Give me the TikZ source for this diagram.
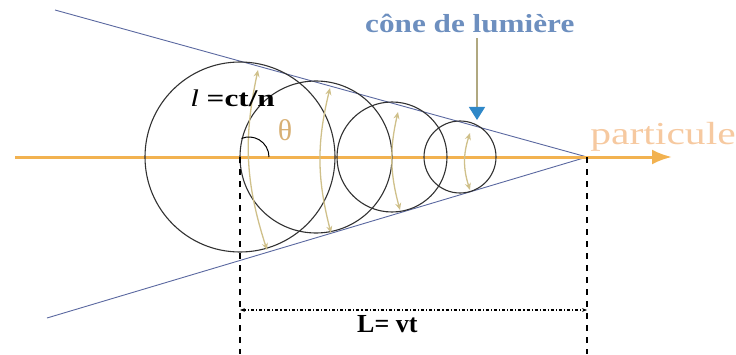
\documentclass[tikz,border=0pt]{standalone}
\usepackage{fontspec}
\setmainfont{Liberation Serif}
\usetikzlibrary{arrows.meta, positioning, calc}
\definecolor{conelinecol}{RGB}{90,104,160}
\definecolor{axisorange}{RGB}{242,178,80}
\definecolor{partorange}{RGB}{246,201,160}
\definecolor{wavekhaki}{RGB}{207,192,138}
\definecolor{coneblue}{RGB}{47,136,200}
\definecolor{labelblue}{RGB}{109,143,191}
\definecolor{shafttan}{RGB}{176,168,128}
\definecolor{thetacol}{RGB}{216,176,116}
\definecolor{circgrey}{RGB}{50,50,50}

\begin{document}
\begin{tikzpicture}[
    x=1pt, y=1pt,
    coneline/.style={draw=conelinecol, line width=0.9pt},
    wavefront/.style={draw=circgrey, line width=1.1pt},
    wavearrow/.style={draw=wavekhaki, line width=1.3pt, {Stealth[length=7pt,width=6pt]}-{Stealth[length=7pt,width=6pt]}},
    guide/.style={draw=black, line width=1.1pt, dash pattern=on 6pt off 6pt},
    lbl/.style={inner sep=0pt, anchor=base west}
]
  \useasboundingbox (0,0) rectangle (736,354);

  \coordinate (origin) at (240,197);
  \coordinate (apex) at (587,197);
  \coordinate (start) at (15,197);
  \coordinate (tip) at (672,197);

  % cone
  \draw[coneline] (55,344) -- (apex) -- (47,36);

  % axis
  \draw[draw=axisorange, line width=3pt, -{Latex[length=20pt,width=15pt]}] (start) -- (tip);

  % wavefronts
  \draw[wavefront] (240,197) circle (95);
  \draw[wavefront] (316,197) circle (76);
  \draw[wavefront] (392,197) circle (55);
  \draw[wavefront] (460,197) circle (36);

  \draw[wavearrow] (258,284) to[bend right=15] (267,104);
  \draw[wavearrow] (330,266) to[bend right=14] (331,121);
  \draw[wavearrow] (398,242) to[bend right=14] (400,144);
  \draw[wavearrow] (470,221) to[bend right=18] (470,164);

  % angle
  \draw[black, line width=1pt] (269,197) arc[start angle=0, end angle=112, radius=20];
  \node[font=\fontsize{30}{30}\selectfont, text=thetacol, inner sep=0pt] (theta) at (285,224) {θ};

  % guides and length
  \coordinate (origindown) at (240,0);
  \coordinate (apexdown) at (587,0);
  \draw[guide] (origin) -- (origindown);
  \draw[guide] (apex) -- (apexdown);
  \coordinate (lenleft) at (240,44);
  \coordinate (lenright) at (587,44);
  \draw[black, line width=1.1pt, dash dot, {Stealth[length=5pt]}-{Stealth[length=5pt]}] (lenleft) -- (lenright);
  \node[lbl, font=\fontsize{26}{26}\selectfont\bfseries] (length) at (357,22) {L= vt};

  % labels
  \node[lbl, font=\fontsize{24}{24}\selectfont, xscale=1.3] (radius) at (190,247) {\textit{l} \textbf{=ct/n}};
  \node[lbl, font=\fontsize{26}{26}\selectfont\bfseries, text=labelblue, xscale=1.2] (conelabel) at (365,321) {cône de lumière};
  \node[lbl, font=\fontsize{32}{32}\selectfont, text=partorange, xscale=1.3] (particle) at (590,209) {particule};

  \coordinate (conetip) at (477,234);
  \draw[draw=shafttan, line width=1.4pt, -{Triangle[length=13pt,width=16pt,color=coneblue]}] (477,316) -- (conetip);
\end{tikzpicture}
\end{document}
